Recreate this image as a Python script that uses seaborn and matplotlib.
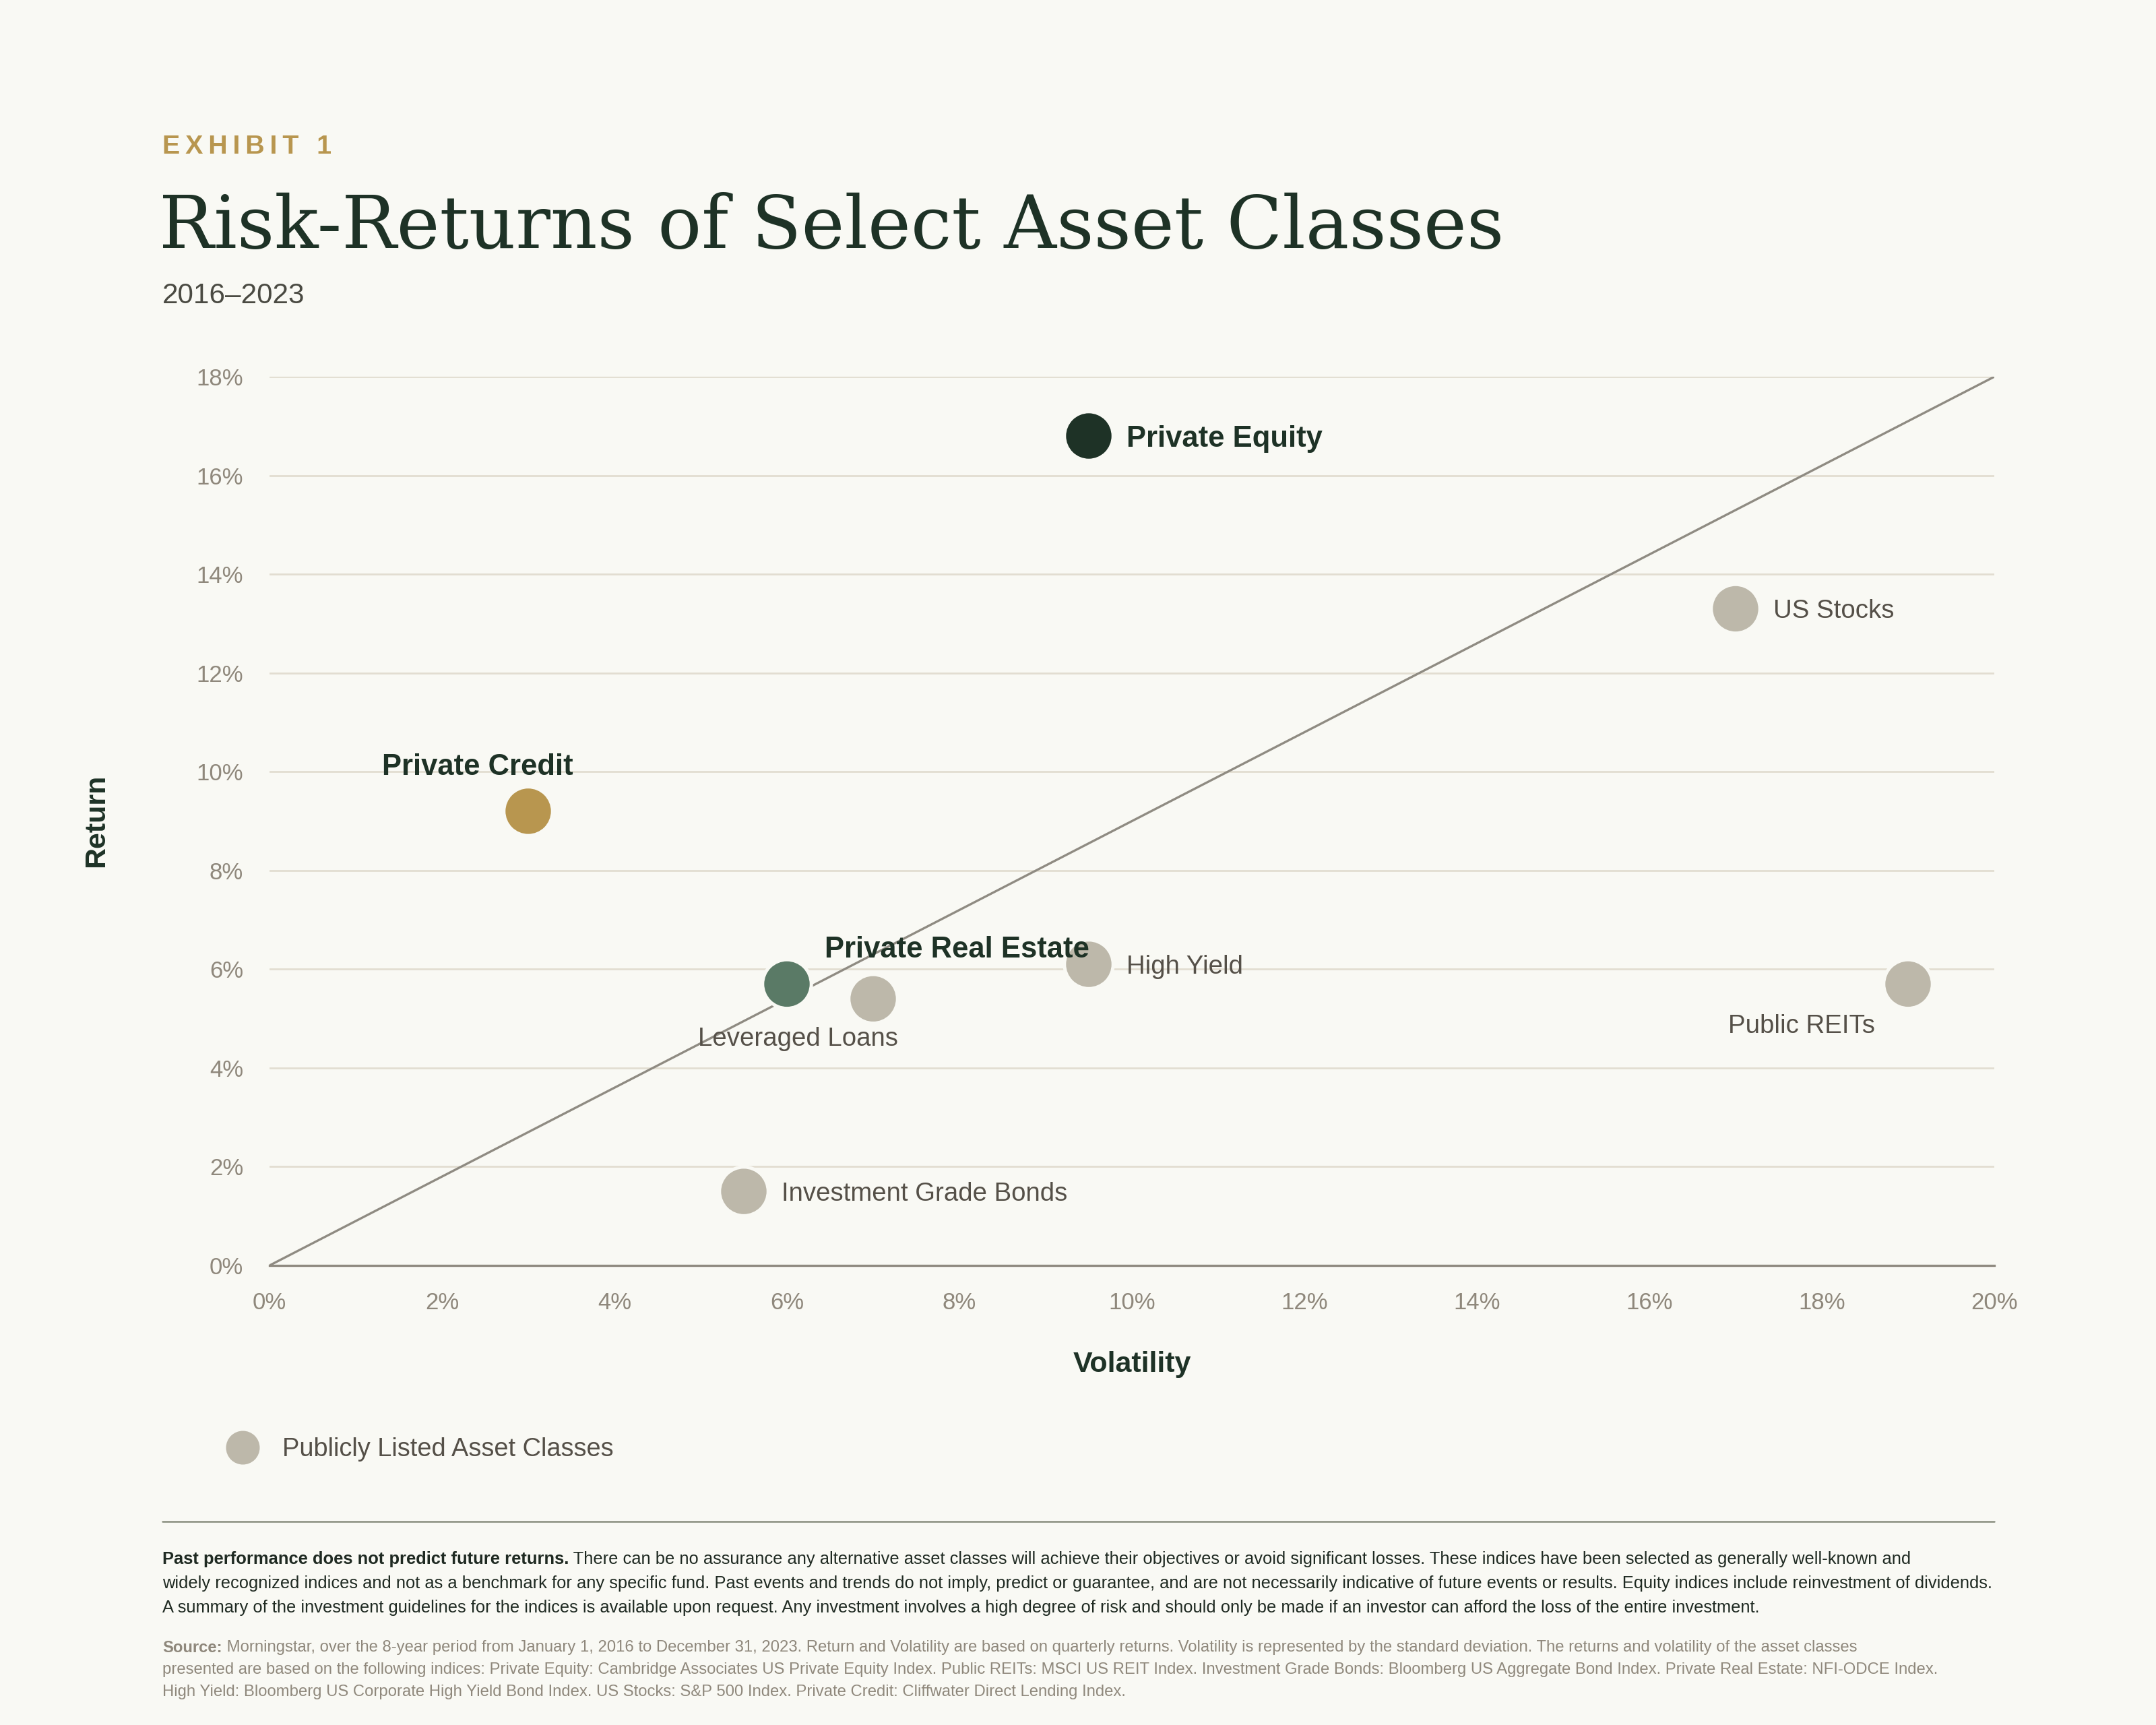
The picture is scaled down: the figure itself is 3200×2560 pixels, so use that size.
"""
Risk-return scatter of select asset classes, 2016-2023.
"""

import numpy as np
import pandas as pd
import matplotlib.pyplot as plt
import seaborn as sns
from matplotlib.lines import Line2D

# ---- data -------------------------------------------------------------
asset_names = ["Private Equity", "US Stocks", "Private Credit", "Private Real Estate",
               "Leveraged Loans", "High Yield", "Public REITs", "Investment Grade Bonds"]
volatility = [9.5, 17.0, 3.0, 6.0, 7.0, 9.5, 19.0, 5.5]
returns = [16.8, 13.3, 9.2, 5.7, 5.4, 6.1, 5.7, 1.5]
asset_group = ["Private Equity", "Public", "Private Credit", "Private Real Estate",
               "Public", "Public", "Public", "Public"]

ref_line_x = [0, 20]
ref_line_y = [0, 18]

x_ticks = list(range(0, 21, 2))
y_ticks = list(range(0, 19, 2))

# ---- style ------------------------------------------------------------
BG = "#F9F9F4"
DARK = "#1E3226"
GOLD = "#B8964F"
TICK = "#8F887C"
LABEL = "#555048"
GRID = "#E2DDD1"
palette = {"Private Equity": "#1E3226", "Private Credit": "#B8964F",
           "Private Real Estate": "#5A7A66", "Public": "#BDB8AA"}

# label offsets in points (dx, dy) and alignment
label_pos = {
    "Private Equity": (20, 0, "left"),
    "US Stocks": (20, 0, "left"),
    "Private Credit": (-27, 25, "center"),
    "Private Real Estate": (91, 20, "center"),
    "Leveraged Loans": (-40, -20, "center"),
    "High Yield": (20, 0, "left"),
    "Public REITs": (-57, -21, "center"),
    "Investment Grade Bonds": (20, 0, "left"),
}

sns.set_theme(style="white")
plt.rcParams["font.family"] = ["Liberation Sans", "DejaVu Sans"]

df = pd.DataFrame({"asset": asset_names, "volatility": volatility,
                   "ret": returns, "group": asset_group})

fig = plt.figure(figsize=(16, 12.8), dpi=200, facecolor=BG)
ax = fig.add_axes([0.125, 0.2664, 0.8, 0.5152])
ax.set_facecolor(BG)

# gridlines and reference line
for yt in y_ticks[1:]:
    ax.axhline(yt, color=GRID, lw=1.0, zorder=0)
ax.plot(ref_line_x, ref_line_y, color="#8F8B82", lw=1.2, zorder=1)

sns.scatterplot(data=df, x="volatility", y="ret", hue="group", palette=palette,
                s=680, edgecolor=BG, linewidth=1.8, legend=False, ax=ax, zorder=3)

for _, row in df.iterrows():
    dx, dy, ha = label_pos[row["asset"]]
    private = row["group"] != "Public"
    ax.annotate(row["asset"], (row["volatility"], row["ret"]),
                xytext=(dx, dy), textcoords="offset points", ha=ha, va="center_baseline",
                fontsize=15.7 if private else 13.8,
                fontweight="bold" if private else "normal",
                color=DARK if private else LABEL, zorder=4)

ax.set_xlim(0, 20)
ax.set_ylim(0, 18)
ax.set_xticks(x_ticks)
ax.set_yticks(y_ticks)
ax.set_xticklabels([f"{t}%" for t in x_ticks])
ax.set_yticklabels([f"{t}%" for t in y_ticks])
ax.tick_params(axis="both", length=0, labelsize=12.5, labelcolor=TICK, pad=14)
ax.set_xlabel("")
ax.set_ylabel("")
for side in ["top", "right", "left"]:
    ax.spines[side].set_visible(False)
ax.spines["bottom"].set_color("#8F8A80")
ax.spines["bottom"].set_linewidth(1.2)

fig.text(0.5250, 0.2090, "Volatility", ha="center", va="center",
         fontsize=15.5, fontweight="bold", color=DARK)
fig.text(0.0447, 0.5242, "Return", ha="center", va="center", rotation=90,
         fontsize=15.5, fontweight="bold", color=DARK)

# ---- header -----------------------------------------------------------
fig.text(0.0753, 0.9150, "\u2009".join("EXHIBIT 1"), ha="left", va="center",
         fontsize=14.2, fontweight="bold", color=GOLD)
fig.text(0.0737, 0.8680, "Risk-Returns of Select Asset Classes", ha="left", va="center",
         fontsize=38.9, color=DARK, family="DejaVu Serif")
fig.text(0.0753, 0.8285, "2016\u20132023", ha="left", va="center",
         fontsize=15.2, color="#4A4A42")

# ---- legend -----------------------------------------------------------
handle = Line2D([], [], marker="o", linestyle="", markersize=17,
                markerfacecolor=palette["Public"], markeredgecolor=palette["Public"])
fig.legend([handle], ["Publicly Listed Asset Classes"], loc="center left",
           bbox_to_anchor=(0.1005, 0.1597), frameon=False, fontsize=13.7,
           labelcolor=LABEL, handletextpad=1.05, borderpad=0, handlelength=1)

# ---- footnotes --------------------------------------------------------
fig.add_artist(Line2D([0.0753, 0.925], [0.1180, 0.1180], color="#8A8F80", lw=0.9,
                      transform=fig.transFigure))

renderer = fig.canvas.get_renderer()


def rich_line(x, y, parts, **kw):
    for text, weight in parts:
        t = fig.text(x, y, text, fontweight=weight, ha="left", va="center", **kw)
        bb = t.get_window_extent(renderer)
        x = fig.transFigure.inverted().transform((bb.x1, bb.y0))[0]


note_lines = [
    [("Past performance does not predict future returns.", "bold"),
     (" There can be no assurance any alternative asset classes will achieve their objectives "
      "or avoid significant losses. These indices have been selected as generally well-known and",
      "normal")],
    [("widely recognized indices and not as a benchmark for any specific fund. Past events and "
      "trends do not imply, predict or guarantee, and are not necessarily indicative of future "
      "events or results. Equity indices include reinvestment of dividends.", "normal")],
    [("A summary of the investment guidelines for the indices is available upon request. Any "
      "investment involves a high degree of risk and should only be made if an investor can "
      "afford the loss of the entire investment.", "normal")],
]
source_lines = [
    [("Source:", "bold"),
     (" Morningstar, over the 8-year period from January 1, 2016 to December 31, 2023. Return "
      "and Volatility are based on quarterly returns. Volatility is represented by the standard "
      "deviation. The returns and volatility of the asset classes", "normal")],
    [("presented are based on the following indices: Private Equity: Cambridge Associates US "
      "Private Equity Index. Public REITs: MSCI US REIT Index. Investment Grade Bonds: Bloomberg "
      "US Aggregate Bond Index. Private Real Estate: NFI-ODCE Index.", "normal")],
    [("High Yield: Bloomberg US Corporate High Yield Bond Index. US Stocks: S&P 500 Index. "
      "Private Credit: Cliffwater Direct Lending Index.", "normal")],
]

for i, parts in enumerate(note_lines):
    rich_line(0.0753, 0.0961 - i * 0.0141, parts, fontsize=9.18, color="#1F2A22")
for i, parts in enumerate(source_lines):
    rich_line(0.0753, 0.0449 - i * 0.0128, parts, fontsize=8.6, color=TICK)

fig.savefig("out.png", dpi=200, facecolor=BG)
